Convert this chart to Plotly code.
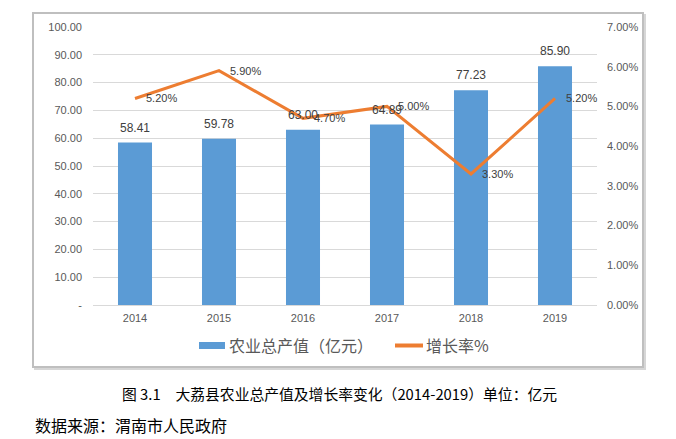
import plotly.graph_objects as go

years = ["2014", "2015", "2016", "2017", "2018", "2019"]
output_values = [58.41, 59.78, 63.00, 64.89, 77.23, 85.90]
growth_rates = [0.052, 0.059, 0.047, 0.050, 0.033, 0.052]
left_tickvals = [0, 10, 20, 30, 40, 50, 60, 70, 80, 90, 100]
left_ticktext = ["-", "10.00", "20.00", "30.00", "40.00", "50.00", "60.00", "70.00", "80.00", "90.00", "100.00"]
bar_name = "农业总产值（亿元）"
line_name = "增长率%"
caption = "图 3.1　大荔县农业总产值及增长率变化（2014-2019）单位：亿元"
source = "数据来源：渭南市人民政府"

BAR_COLOR = "#5B9BD5"
LINE_COLOR = "#ED7D31"

W, H = 676, 439
L, R, T, B = 93, 597, 27, 305
pw, ph = R - L, B - T

def px_x(x):
    return (x - L) / pw

def px_y(y):
    return (B - y) / ph

sans = "Liberation Sans, Arial, sans-serif"
cjk = "Noto Sans CJK SC, sans-serif"
tick_font = dict(family=sans, size=11, color="#595959")
label_font = dict(family=sans, size=12, color="#404040")

fig = go.Figure()
fig.add_trace(go.Bar(
    x=years, y=output_values, name=bar_name,
    marker=dict(color=BAR_COLOR, line=dict(width=0)),
    yaxis="y", showlegend=False,
))
fig.add_trace(go.Scatter(
    x=years, y=growth_rates, name=line_name, mode="lines",
    line=dict(color=LINE_COLOR, width=3),
    cliponaxis=False, yaxis="y2", showlegend=False,
))

annotations = []
for i, v in enumerate(output_values):
    annotations.append(dict(x=i, y=v, xref="x", yref="y", text=f"{v:.2f}",
                            showarrow=False, xanchor="center", yanchor="bottom",
                            yshift=6, font=label_font))
for i, g in enumerate(growth_rates):
    annotations.append(dict(x=i, y=g, xref="x", yref="y2", text=f"{g*100:.2f}%",
                            showarrow=False, xanchor="left", yanchor="middle",
                            xshift=9, font=dict(family=sans, size=11, color="#404040")))

legend_font = dict(family=cjk, size=16, color="#595959")
annotations += [
    dict(text=bar_name, xref="paper", yref="paper", x=px_x(227), y=px_y(345),
         xanchor="left", yanchor="middle", showarrow=False, font=legend_font),
    dict(text=line_name, xref="paper", yref="paper", x=px_x(424), y=px_y(345),
         xanchor="left", yanchor="middle", showarrow=False, font=legend_font),
    dict(text=caption, xref="paper", yref="paper", x=px_x(339), y=px_y(393),
         xanchor="center", yanchor="middle", showarrow=False,
         font=dict(family=cjk, size=14.8, color="#000000")),
    dict(text=source, xref="paper", yref="paper", x=px_x(33), y=px_y(425),
         xanchor="left", yanchor="middle", showarrow=False,
         font=dict(family=cjk, size=16, color="#000000")),
]

shapes = [
    dict(type="rect", xref="paper", yref="paper",
         x0=px_x(35), x1=px_x(645), y0=px_y(369), y1=px_y(15),
         line=dict(color="#d6d6d6", width=2), layer="below"),
    dict(type="rect", xref="paper", yref="paper",
         x0=px_x(33), x1=px_x(643), y0=px_y(367), y1=px_y(13),
         line=dict(color="#bfbfbf", width=2), fillcolor="white", layer="below"),
    dict(type="rect", xref="paper", yref="paper",
         x0=px_x(199), x1=px_x(225), y0=px_y(349), y1=px_y(342),
         line=dict(width=0), fillcolor=BAR_COLOR, layer="above"),
    dict(type="line", xref="paper", yref="paper",
         x0=px_x(395), x1=px_x(423), y0=px_y(345.5), y1=px_y(345.5),
         line=dict(color=LINE_COLOR, width=4), layer="above"),
]

fig.update_layout(
    width=W, height=H,
    margin=dict(l=L, r=W - R, t=T, b=H - B, pad=0),
    paper_bgcolor="white", plot_bgcolor="white",
    bargap=0.595,
    showlegend=False,
    xaxis=dict(type="category", range=[-0.5, len(years) - 0.5], showgrid=False,
               showline=True, linecolor="#d9d9d9", linewidth=1,
               ticks="", tickfont=tick_font, ticklabelstandoff=3),
    yaxis=dict(range=[0, 100], tickvals=left_tickvals, ticktext=left_ticktext,
               showgrid=True, gridcolor="#d9d9d9", gridwidth=1, zeroline=False,
               showline=False, ticks="", tickfont=tick_font, ticklabelstandoff=10),
    yaxis2=dict(range=[0, 0.07], dtick=0.01, tickformat=".2%", overlaying="y", side="right",
                showgrid=False, zeroline=False, showline=False, ticks="",
                tickfont=tick_font, ticklabelstandoff=9),
    shapes=shapes,
    annotations=annotations,
)

fig.write_html("out.html")
